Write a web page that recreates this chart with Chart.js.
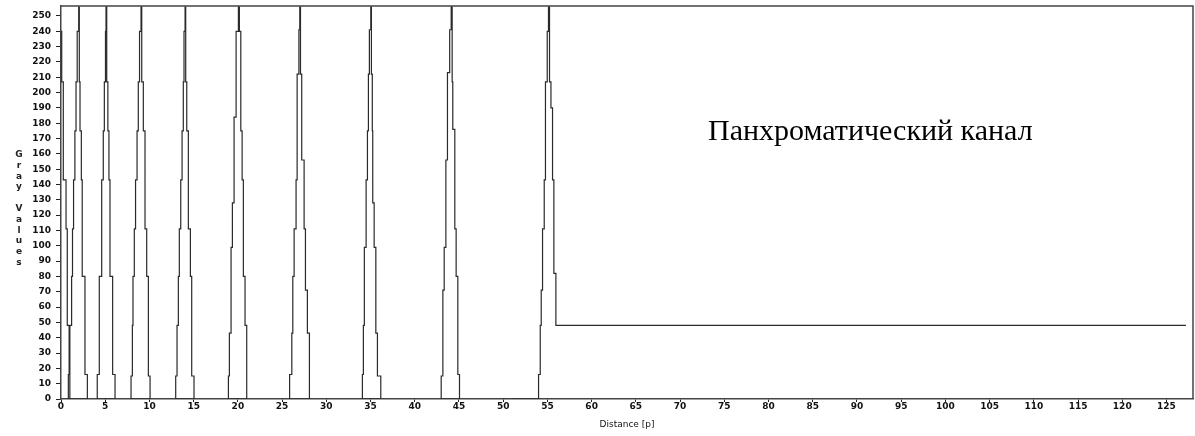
<!DOCTYPE html>
<html>
<head>
<meta charset="utf-8">
<script src="https://cdn.jsdelivr.net/npm/chart.js@4.4.0/dist/chart.umd.min.js"></script>
<style>
    html, body { margin: 0; padding: 0; background: #fff; }
    #wrap { position: relative; width: 1195px; height: 436px; }
    #yTitle {
        position: absolute; left: 14px; top: 149px;
        writing-mode: vertical-lr; text-orientation: upright;
        font: bold 9px "DejaVu Sans"; letter-spacing: 0.8px; color: #222;
    }
    #note {
        position: absolute; left: 708px; top: 115px;
        font: 30px "Liberation Serif"; line-height: 30px; color: #000; white-space: nowrap;
    }
</style>
</head>
<body>
<div id="wrap">
    <canvas id="profileChart" width="1195" height="436"></canvas>
    <div id="yTitle">Gray Values</div>
    <div id="note">Панхроматический канал</div>
</div>
<script>
// Profile: each entry is where the gray value steps to a new level.
// null breaks the line between the separate peak outlines.
const distance = [
    0, 0.08, 0.26, 0.57, 0.71, 0.92, 1.0, 1.0,
    0.83, 0.83, 1.0, 1.2, 1.3, 1.42, 1.57, 1.7, 1.83, 2.0, 2.07, 2.15, 2.3, 2.4, 2.71, 2.98, 0.83, 0.83,
    4.1, 4.1, 4.33, 4.6, 4.78, 4.9, 5.03, 5.09, 5.17, 5.3, 5.42, 5.54, 5.84, 6.11, 4.1, 4.1,
    7.92, 7.92, 8.07, 8.14, 8.29, 8.43, 8.6, 8.74, 8.88, 9.05, 9.13, 9.31, 9.5, 9.69, 9.88, 10.07, 7.92, 7.92,
    12.97, 12.97, 13.12, 13.27, 13.38, 13.54, 13.69, 13.83, 13.91, 14.03, 14.1, 14.22, 14.4, 14.63, 14.78, 15.04, 12.97, 12.97,
    18.93, 18.93, 19.04, 19.23, 19.38, 19.57, 19.8, 20.06, 20.17, 20.33, 20.48, 20.62, 20.81, 21.0, 18.93, 18.93,
    25.85, 25.85, 26.1, 26.21, 26.36, 26.58, 26.7, 26.9, 27.0, 27.08, 27.22, 27.49, 27.64, 27.86, 28.09, 25.85, 25.85,
    34.08, 34.08, 34.19, 34.3, 34.5, 34.65, 34.76, 34.87, 35.03, 35.1, 35.2, 35.25, 35.41, 35.6, 35.78, 36.16, 34.08, 34.08,
    42.99, 42.99, 43.18, 43.33, 43.52, 43.7, 43.95, 44.12, 44.23, 44.3, 44.53, 44.68, 44.87, 45.06, 42.99, 42.99,
    49.9, 50.35, 50.35,
    51.1, 54.0, 54.0, 54.19, 54.3, 54.45, 54.64, 54.78, 54.98, 55.12, 55.24, 55.4, 55.58, 55.73, 55.96, 127.2
];
const grayValue = [
    240, 207, 143, 111, 48, 16, 0, null,
    0, 16, 48, 80, 111, 143, 175, 207, 240, 256, 207, 175, 143, 80, 16, 0, 0, null,
    0, 16, 80, 143, 175, 207, 240, 256, 207, 175, 143, 80, 16, 0, 0, null,
    0, 15, 48, 80, 111, 143, 175, 207, 240, 256, 207, 175, 111, 80, 15, 0, 0, null,
    0, 15, 48, 80, 111, 143, 175, 207, 240, 256, 207, 175, 111, 80, 15, 0, 0, null,
    0, 15, 43, 99, 128, 184, 240, 256, 240, 175, 143, 80, 48, 0, 0, null,
    0, 16, 43, 80, 111, 143, 212, 241, 256, 212, 156, 111, 71, 43, 0, 0, null,
    0, 16, 48, 99, 143, 175, 212, 241, 256, 212, 175, 128, 99, 43, 15, 0, 0, null,
    0, 15, 71, 99, 156, 213, 241, 256, 207, 176, 111, 80, 16, 0, 0, null,
    0, 0, null,
    0, 0, 16, 48, 71, 111, 143, 207, 240, 256, 207, 190, 143, 82, 48, 48
];

const xTicks = [0, 5, 10, 15, 20, 25, 30, 35, 40, 45, 50, 55, 60, 65, 70, 75, 80, 85, 90, 95, 100, 105, 110, 115, 120, 125];
const yTicks = [0, 10, 20, 30, 40, 50, 60, 70, 80, 90, 100, 110, 120, 130, 140, 150, 160, 170, 180, 190, 200, 210, 220, 230, 240, 250];

const tickFont = { family: 'DejaVu Sans', size: 9, weight: 'bold' };

// top and right edges of the plot frame
const frame = {
    id: 'frame',
    afterDraw(chart) {
        const { ctx, chartArea: a } = chart;
        ctx.save();
        ctx.strokeStyle = '#444';
        ctx.lineWidth = 1.5;
        ctx.beginPath();
        ctx.moveTo(a.left, a.top);
        ctx.lineTo(a.right, a.top);
        ctx.lineTo(a.right, a.bottom);
        ctx.stroke();
        ctx.restore();
    }
};

new Chart(document.getElementById('profileChart').getContext('2d'), {
    type: 'line',
    data: {
        datasets: [{
            data: distance.map((d, i) => ({ x: d, y: grayValue[i] })),
            borderColor: '#2a2a2a',
            borderWidth: 1.2,
            pointRadius: 0,
            stepped: 'before',
            spanGaps: false,
            fill: false
        }]
    },
    options: {
        responsive: false,
        animation: false,
        devicePixelRatio: 1,
        layout: { padding: { top: 6, right: 2, left: 0, bottom: 0 } },
        plugins: { legend: { display: false }, tooltip: { enabled: false } },
        scales: {
            x: {
                type: 'linear',
                min: 0,
                max: 128,
                afterBuildTicks: scale => { scale.ticks = xTicks.map(v => ({ value: v })); },
                afterFit: scale => {
                    scale.height = 37;
                    scale.paddingLeft = 0;
                    scale.paddingRight = 0;
                },
                ticks: { font: tickFont, color: '#111', padding: -1, maxRotation: 0, autoSkip: false },
                grid: { drawOnChartArea: false, drawTicks: true, tickLength: 3, color: '#222' },
                border: { display: true, color: '#444', width: 1.5 },
                title: {
                    display: true,
                    text: 'Distance [p]',
                    font: { family: 'DejaVu Sans', size: 9 },
                    color: '#111',
                    padding: { top: 0, bottom: 6 }
                }
            },
            y: {
                min: 0,
                max: 256.5,
                afterBuildTicks: scale => { scale.ticks = yTicks.map(v => ({ value: v })); },
                afterFit: scale => {
                    scale.width = 61;
                    scale.paddingTop = 0;
                    scale.paddingBottom = 0;
                },
                ticks: { font: tickFont, color: '#111', padding: 5, autoSkip: false },
                grid: { drawOnChartArea: false, drawTicks: true, tickLength: 5, color: '#222' },
                border: { display: true, color: '#444', width: 1.5 }
            }
        }
    },
    plugins: [frame]
});
</script>
</body>
</html>
